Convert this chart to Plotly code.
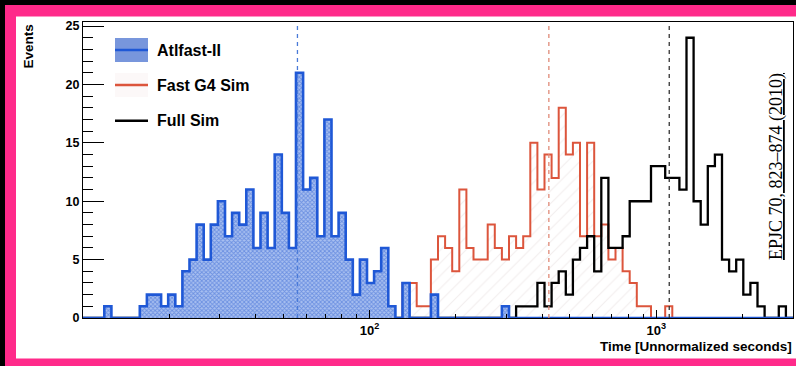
import numpy as np
import plotly.graph_objects as go

# ---------------- data ----------------
x_min, x_max, n_bins = 10, 3000, 100
series_names = ["Atlfast-II", "Fast G4 Sim", "Full Sim"]

atlfast = ([0, 0, 0, 1, 0, 0, 0, 0, 1, 2,
            2, 1, 2, 1, 4, 5, 8, 5, 8, 10,
            7, 9, 8, 11, 6, 9, 6, 14, 9, 6,
            21, 11, 12, 7, 17, 7, 9, 5, 2, 5,
            3, 4, 6, 1, 0, 3, 0, 0, 0, 2,
            0, 0, 0, 0, 0, 0, 0, 0, 0, 1] + [0] * 40)

fastg4 = ([0] * 45 +
          [3, 3, 1, 1, 5,
           7, 6, 4, 11, 6, 5, 5, 8, 6, 5,
           7, 6, 7, 15, 11, 14, 12, 18, 14, 15,
           7, 15, 7, 8, 5, 6, 4, 3, 1, 1,
           0, 0, 1] + [0] * 17)

fullsim = ([0] * 61 +
           [1, 1, 1, 3, 1, 3, 4, 2, 5,
            6, 7, 4, 12, 6, 6, 7, 10, 10, 10,
            13, 13, 12, 12, 11, 24, 10, 8, 13, 14,
            5, 4, 5, 2, 3, 1, 0, 0, 1, 0])

means = [56, 422, 1110]
y_ticks = [0, 5, 10, 15, 20, 25]
x_ticks = [100, 1000]
x_tick_text = ["10<sup>2</sup>", "10<sup>3</sup>"]
x_minor = [20, 30, 40, 50, 60, 70, 80, 90, 200, 300, 400, 500, 600, 700, 800, 900, 2000, 3000]
x_title = "Time [Unnormalized seconds]"
y_title = "Events"
ref_text = "EPJC 70, 823–874 (2010)"

# ---------------- layout geometry (pixels) ----------------
W, H = 796, 366
L, R, T, B = 83, 3, 22, 48
PW, PH = W - L - R, H - T - B
Y_MAX = 25.35


def px(xp):
    return (xp - L) / PW


def py(yp):
    return (H - B - yp) / PH


edges = np.logspace(np.log10(x_min), np.log10(x_max), n_bins + 1)


def step(counts):
    xs = [edges[0]] + list(edges[:-1]) + [edges[-1], edges[-1]]
    ys = [0] + list(counts) + [counts[-1], 0]
    return xs, ys


BLUE = "#1f58d6"
ORANGE = "#dc553c"
BLACK = "#000000"
PINK = "#ff2a8a"

fig = go.Figure()

xs, ys = step(fastg4)
fig.add_trace(go.Scatter(
    x=xs, y=ys, mode="lines", line=dict(color=ORANGE, width=2, shape="hv"),
    fill="tozeroy", fillcolor="rgba(255,255,255,0)",
    fillpattern=dict(shape="/", fgcolor="#e4dcdc", bgcolor="rgba(255,255,255,0)", size=9, solidity=0.12),
    showlegend=False, hoverinfo="skip"))

xs, ys = step(fullsim)
fig.add_trace(go.Scatter(
    x=xs, y=ys, mode="lines", line=dict(color=BLACK, width=2.3, shape="hv"),
    showlegend=False, hoverinfo="skip"))

xs, ys = step(atlfast)
fig.add_trace(go.Scatter(
    x=xs, y=ys, mode="lines", line=dict(color=BLUE, width=2.6, shape="hv"),
    fill="tozeroy", fillcolor="#7f9fe2",
    fillpattern=dict(shape="x", fgcolor="#2d5fd2", bgcolor="#a9c0f0", size=3, solidity=0.5),
    showlegend=False, hoverinfo="skip"))

dash_colors = ["#4a7ad8", "#e08a78", "#333333"]
for m, c in zip(means, dash_colors):
    fig.add_trace(go.Scatter(
        x=[m, m], y=[0, Y_MAX], mode="lines",
        line=dict(color=c, width=1.3, dash="4px,4px"),
        showlegend=False, hoverinfo="skip"))

bold = dict(family="Liberation Sans, Arial", size=12.5, color="black", weight="bold")
bold13 = dict(family="Liberation Sans, Arial", size=13.5, color="black", weight="bold")

fig.update_xaxes(
    type="log", range=[np.log10(x_min), np.log10(x_max)],
    showline=True, linecolor="black", linewidth=1, mirror=True,
    showgrid=False, zeroline=False,
    tickmode="array", tickvals=x_ticks, ticktext=x_tick_text,
    ticks="inside", ticklen=8, tickwidth=1, tickcolor="black",
    tickfont=dict(family="Liberation Sans, Arial", size=13, color="black", weight="bold"),
    minor=dict(tickmode="array", tickvals=x_minor, ticks="inside", ticklen=4,
               tickwidth=1, tickcolor="black", showgrid=False),
)
fig.update_yaxes(
    range=[0, Y_MAX],
    showline=True, linecolor="black", linewidth=1, mirror=True,
    showgrid=False, zeroline=False,
    tickmode="array", tickvals=y_ticks,
    ticks="inside", ticklen=21, tickwidth=1.2, tickcolor="black",
    tickfont=bold,
    minor=dict(dtick=1, ticks="inside", ticklen=10, tickwidth=1.2, tickcolor="black", showgrid=False),
)

shapes = []
# frame decorations: black strips + pink border
shapes.append(dict(type="rect", xref="paper", yref="paper", x0=px(0), x1=px(5), y0=py(H), y1=py(0),
                   fillcolor="black", line=dict(width=0), layer="above"))
shapes.append(dict(type="rect", xref="paper", yref="paper", x0=px(0), x1=px(W), y0=py(5), y1=py(0),
                   fillcolor="black", line=dict(width=0), layer="above"))
shapes.append(dict(type="rect", xref="paper", yref="paper", x0=px(5), x1=px(W), y0=py(16.5), y1=py(5),
                   fillcolor=PINK, line=dict(width=0), layer="above"))
shapes.append(dict(type="rect", xref="paper", yref="paper", x0=px(5), x1=px(16), y0=py(H), y1=py(5),
                   fillcolor=PINK, line=dict(width=0), layer="above"))
shapes.append(dict(type="rect", xref="paper", yref="paper", x0=px(5), x1=px(W), y0=py(H), y1=py(358.5),
                   fillcolor=PINK, line=dict(width=0), layer="above"))

# legend symbols
leg_y = [50, 85, 120.7]
shapes.append(dict(type="rect", xref="paper", yref="paper", x0=px(115), x1=px(148),
                   y0=py(leg_y[0] + 12), y1=py(leg_y[0] - 12),
                   fillcolor="#7896dc", line=dict(width=0)))
shapes.append(dict(type="rect", xref="paper", yref="paper", x0=px(115), x1=px(148),
                   y0=py(leg_y[1] + 12), y1=py(leg_y[1] - 12),
                   fillcolor="rgba(230,200,200,0.12)", line=dict(width=0)))
leg_colors = [BLUE, ORANGE, BLACK]
for yy, c in zip(leg_y, leg_colors):
    shapes.append(dict(type="line", xref="paper", yref="paper", x0=px(115), x1=px(148),
                       y0=py(yy), y1=py(yy), line=dict(color=c, width=2.6)))

annotations = []
for yy, name in zip(leg_y, series_names):
    annotations.append(dict(text=name, xref="paper", yref="paper", x=px(155), y=py(yy),
                            xanchor="left", yanchor="middle", showarrow=False,
                            font=dict(family="Liberation Sans, Arial", size=16, color="black", weight="bold")))
annotations.append(dict(text=x_title, xref="paper", yref="paper", x=px(794), y=py(346),
                        xanchor="right", yanchor="middle", showarrow=False, font=bold13))
annotations.append(dict(text=y_title, xref="paper", yref="paper", x=px(27.5), y=py(22),
                        xanchor="center", yanchor="top", showarrow=False, textangle=-90, font=bold13))
annotations.append(dict(text='<span style="text-decoration:underline">' + ref_text + '</span>',
                        xref="paper", yref="paper", x=px(776), y=py(167),
                        xanchor="center", yanchor="middle", showarrow=False, textangle=-90,
                        font=dict(family="Liberation Serif, Times New Roman", size=18, color="black")))

fig.update_layout(
    width=W, height=H, margin=dict(l=L, r=R, t=T, b=B),
    paper_bgcolor="white", plot_bgcolor="white",
    shapes=shapes, annotations=annotations, showlegend=False,
)

fig.write_html("out.html")
